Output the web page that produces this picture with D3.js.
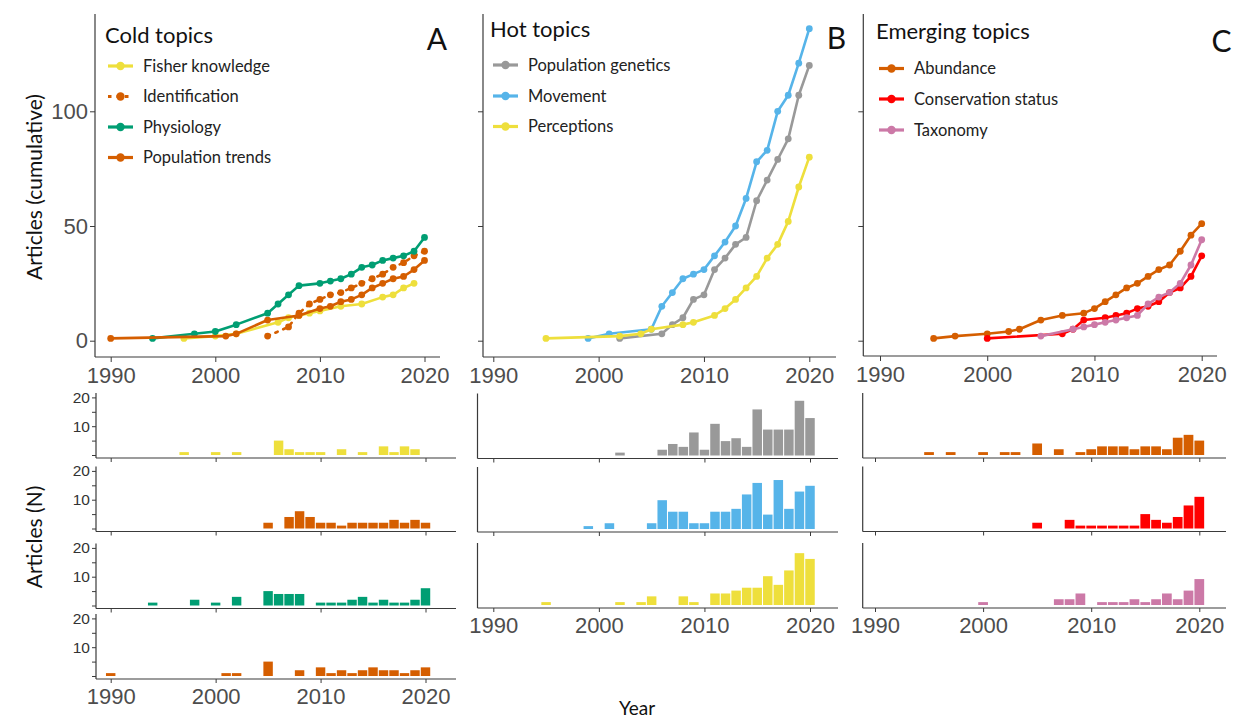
<!DOCTYPE html>
<html>
<head>
<meta charset="utf-8">
<script src="https://cdn.jsdelivr.net/npm/d3@7"></script>
<style>
  body { margin: 0; background: #fff; }
  svg { display: block; }
</style>
</head>
<body>
<svg id="chart" width="1236" height="720"></svg>
<script>
// ---- Topic names per group ----
const coldTopics = ["Fisher knowledge", "Identification", "Physiology", "Population trends"];
const hotTopics = ["Population genetics", "Movement", "Perceptions"];
const emergingTopics = ["Abundance", "Conservation status", "Taxonomy"];

// ---- Year axis ticks ----
const yearTicks = [1990, 2000, 2010, 2020];
const cumulativeTicks = [0, 50, 100];
const countTicks = [0, 5, 10, 15, 20];
const countTickLabels = ["", "", "10", "", "20"];

// ---- Cold topics ----
const fisherYears = [1997, 2000, 2002, 2006, 2007, 2008, 2009, 2010, 2012, 2014, 2016, 2017, 2018, 2019];
const fisherCounts = [1, 1, 1, 5, 2, 1, 1, 1, 2, 1, 3, 1, 3, 2];
const fisherCumulative = [1, 2, 3, 8, 10, 11, 12, 13, 15, 16, 19, 20, 23, 25];

const identYears = [2005, 2007, 2008, 2009, 2010, 2011, 2012, 2013, 2014, 2015, 2016, 2017, 2018, 2019, 2020];
const identCounts = [2, 4, 6, 4, 2, 2, 1, 2, 2, 2, 2, 3, 2, 3, 2];
const identCumulative = [2, 6, 12, 16, 18, 20, 21, 23, 25, 27, 29, 32, 34, 37, 39];

const physioYears = [1994, 1998, 2000, 2002, 2005, 2006, 2007, 2008, 2010, 2011, 2012, 2013, 2014, 2015, 2016, 2017, 2018, 2019, 2020];
const physioCounts = [1, 2, 1, 3, 5, 4, 4, 4, 1, 1, 1, 2, 3, 1, 2, 1, 1, 2, 6];
const physioCumulative = [1, 3, 4, 7, 12, 16, 20, 24, 25, 26, 27, 29, 32, 33, 35, 36, 37, 39, 45];

const trendsYears = [1990, 2001, 2002, 2005, 2008, 2010, 2011, 2012, 2013, 2014, 2015, 2016, 2017, 2018, 2019, 2020];
const trendsCounts = [1, 1, 1, 5, 2, 3, 1, 2, 1, 2, 3, 2, 2, 1, 2, 3];
const trendsCumulative = [1, 2, 3, 9, 11, 14, 15, 17, 18, 20, 23, 25, 27, 28, 31, 35];

// ---- Hot topics ----
const geneticsYears = [2002, 2006, 2007, 2008, 2009, 2010, 2011, 2012, 2013, 2014, 2015, 2016, 2017, 2018, 2019, 2020];
const geneticsCounts = [1, 2, 4, 3, 8, 2, 11, 5, 6, 3, 16, 9, 9, 9, 19, 13];
const geneticsCumulative = [1, 3, 7, 10, 18, 20, 31, 36, 42, 45, 61, 70, 79, 88, 107, 120];

const movementYears = [1999, 2001, 2005, 2006, 2007, 2008, 2009, 2010, 2011, 2012, 2013, 2014, 2015, 2016, 2017, 2018, 2019, 2020];
const movementCounts = [1, 2, 2, 10, 6, 6, 2, 2, 6, 6, 7, 12, 16, 5, 17, 7, 13, 15];
const movementCumulative = [1, 3, 5, 15, 21, 27, 29, 31, 37, 43, 50, 62, 78, 83, 100, 107, 121, 136];

const perceptionsYears = [1995, 2002, 2004, 2005, 2008, 2009, 2011, 2012, 2013, 2014, 2015, 2016, 2017, 2018, 2019, 2020];
const perceptionsCounts = [1, 1, 1, 3, 3, 1, 4, 4, 5, 6, 6, 10, 7, 12, 18, 16];
const perceptionsCumulative = [1, 2, 3, 5, 7, 8, 11, 14, 18, 23, 28, 36, 42, 52, 67, 80];

// ---- Emerging topics ----
const abundanceYears = [1995, 1997, 2000, 2002, 2003, 2005, 2007, 2009, 2010, 2011, 2012, 2013, 2014, 2015, 2016, 2017, 2018, 2019, 2020];
const abundanceCounts = [1, 1, 1, 1, 1, 4, 2, 1, 2, 3, 3, 3, 2, 3, 3, 2, 6, 7, 5];
const abundanceCumulative = [1, 2, 3, 4, 5, 9, 11, 12, 14, 17, 20, 23, 25, 28, 31, 33, 39, 46, 51];

const conservationBarYears = [2005, 2008, 2009, 2010, 2011, 2012, 2013, 2014, 2015, 2016, 2017, 2018, 2019, 2020];
const conservationCounts = [2, 3, 1, 1, 1, 1, 1, 1, 5, 3, 2, 4, 8, 11];
const conservationLineYears = [2000, 2007, 2008, 2009, 2011, 2012, 2013, 2014, 2015, 2016, 2017, 2018, 2019, 2020];
const conservationCumulative = [1, 3, 5, 9, 10, 11, 12, 14, 15, 17, 21, 23, 28, 37];

const taxonomyBarYears = [2000, 2007, 2008, 2009, 2011, 2012, 2013, 2014, 2015, 2016, 2017, 2018, 2019, 2020];
const taxonomyCounts = [1, 2, 2, 4, 1, 1, 1, 2, 1, 2, 4, 2, 5, 9];
const taxonomyLineYears = [2005, 2008, 2009, 2010, 2011, 2012, 2013, 2014, 2015, 2016, 2017, 2018, 2019, 2020];
const taxonomyCumulative = [2, 5, 6, 7, 8, 9, 10, 11, 16, 19, 21, 25, 33, 44];

// ---- Palette ----
const YELLOW = "#EEDF3C", ORANGE = "#D55E00", GREEN = "#009E73", GREY = "#999999",
      BLUE = "#56B4E9", RED = "#FF0000", PINK = "#CC79A7";

const zip = (xs, ys) => xs.map((x, i) => ({ year: x, value: ys[i] }));

// ---- Panel definitions (layout in px) ----
const panels = [
  {
    letter: "A", title: "Cold topics",
    top: { axisX: 95, axisEnd: 440, axisY: 357, x1990: 110.7, x2020: 424.5 },
    bars: { axisX: 96, axisEnd: 456, x1990: 110.7, x2020: 425.5, bases: [455, 528.5, 605.5, 676], labels: true },
    legend: { x: 106, titleY: 35, rows: [66, 96.5, 127, 157.5] },
    letterPos: [437, 39],
    series: [
      { name: coldTopics[0], color: YELLOW, line: zip(fisherYears, fisherCumulative), bar: zip(fisherYears, fisherCounts) },
      { name: coldTopics[1], color: ORANGE, dashed: true, line: zip(identYears, identCumulative), bar: zip(identYears, identCounts) },
      { name: coldTopics[2], color: GREEN, line: zip(physioYears, physioCumulative), bar: zip(physioYears, physioCounts) },
      { name: coldTopics[3], color: ORANGE, line: zip(trendsYears, trendsCumulative), bar: zip(trendsYears, trendsCounts) }
    ]
  },
  {
    letter: "B", title: "Hot topics",
    top: { axisX: 483, axisEnd: 836, axisY: 357, x1990: 493.3, x2020: 809.3 },
    bars: { axisX: 477.5, axisEnd: 838, x1990: 493.3, x2020: 810, bases: [455.5, 529, 605], labels: false },
    legend: { x: 491, titleY: 29, rows: [65, 96, 126.5] },
    letterPos: [836.5, 38],
    series: [
      { name: hotTopics[0], color: GREY, line: zip(geneticsYears, geneticsCumulative), bar: zip(geneticsYears, geneticsCounts) },
      { name: hotTopics[1], color: BLUE, line: zip(movementYears, movementCumulative), bar: zip(movementYears, movementCounts) },
      { name: hotTopics[2], color: YELLOW, line: zip(perceptionsYears, perceptionsCumulative), bar: zip(perceptionsYears, perceptionsCounts) }
    ]
  },
  {
    letter: "C", title: "Emerging topics",
    top: { axisX: 863.3, axisEnd: 1217, axisY: 356, x1990: 880, x2020: 1201.7 },
    bars: { axisX: 862.7, axisEnd: 1226, x1990: 875, x2020: 1199.3, bases: [455, 528.5, 605], labels: false },
    legend: { x: 877, titleY: 31, rows: [68.5, 99, 130] },
    letterPos: [1221.5, 41],
    series: [
      { name: emergingTopics[0], color: ORANGE, line: zip(abundanceYears, abundanceCumulative), bar: zip(abundanceYears, abundanceCounts) },
      { name: emergingTopics[1], color: RED, line: zip(conservationLineYears, conservationCumulative), bar: zip(conservationBarYears, conservationCounts) },
      { name: emergingTopics[2], color: PINK, line: zip(taxonomyLineYears, taxonomyCumulative), bar: zip(taxonomyBarYears, taxonomyCounts) }
    ]
  }
];

const svg = d3.select("#chart");
const AXIS = "#3a3a3a";
const TICKTXT = "#4d4d4d";
const SANS = "Lato, 'Open Sans', sans-serif";
const ARIAL = "'Liberation Sans', Arial, sans-serif";

// Shared vertical scale for the cumulative panels
const yCum = d3.scaleLinear().domain([0, 100]).range([340.7, 111.3]);
const COUNT_PX = 2.88; // px per article in the yearly count rows

panels.forEach((p, pi) => {
  const T = p.top;
  const x = d3.scaleLinear().domain([1990, 2020]).range([T.x1990, T.x2020]);
  const g = svg.append("g");

  // axes of the cumulative panel
  const yAxis = d3.axisLeft(yCum).tickValues(cumulativeTicks).tickSize(5)
    .tickFormat(pi === 0 ? d3.format("d") : () => "");
  const ya = g.append("g").attr("transform", `translate(${T.axisX},0)`).call(yAxis);
  ya.select(".domain").remove();
  ya.append("line").attr("x1", 0).attr("x2", 0).attr("y1", 14).attr("y2", T.axisY).attr("stroke", AXIS).attr("stroke-width", 1.2);
  ya.selectAll(".tick line").attr("stroke", AXIS).attr("stroke-width", 1);
  ya.selectAll(".tick text").attr("fill", TICKTXT).style("font-family", ARIAL).style("font-size", "22px").attr("x", -7);

  const xAxis = d3.axisBottom(x).tickValues(yearTicks).tickSize(5).tickFormat(d3.format("d"));
  const xa = g.append("g").attr("transform", `translate(0,${T.axisY})`).call(xAxis);
  xa.select(".domain").remove();
  xa.append("line").attr("x1", T.axisX).attr("x2", T.axisEnd).attr("y1", 0).attr("y2", 0).attr("stroke", AXIS).attr("stroke-width", 1.2);
  xa.selectAll(".tick line").attr("stroke", AXIS);
  xa.selectAll(".tick text").attr("fill", TICKTXT).style("font-family", ARIAL).style("font-size", "22px").attr("y", 10);

  // cumulative lines with points
  const lineGen = d3.line().x(d => x(d.year)).y(d => yCum(d.value));
  p.series.forEach(s => {
    g.append("path").datum(s.line).attr("d", lineGen)
      .attr("fill", "none").attr("stroke", s.color).attr("stroke-width", 2.6)
      .attr("stroke-linejoin", "round").attr("stroke-linecap", "round")
      .attr("stroke-dasharray", s.dashed ? "2.5,6" : null);
    g.selectAll(null).data(s.line).enter().append("circle")
      .attr("cx", d => x(d.year)).attr("cy", d => yCum(d.value)).attr("r", 3.4)
      .attr("fill", s.color);
  });

  // legend
  const L = p.legend;
  g.append("text").attr("x", L.x - 1).attr("y", L.titleY).attr("dy", "0.35em")
    .style("font-family", SANS).style("font-size", "22px").attr("fill", "#111").text(p.title);
  p.series.forEach((s, i) => {
    const ly = L.rows[i];
    g.append("line").attr("x1", L.x + 2).attr("x2", L.x + 27).attr("y1", ly).attr("y2", ly)
      .attr("stroke", s.color).attr("stroke-width", 3.2)
      .attr("stroke-dasharray", s.dashed ? "3.5,5" : null);
    g.append("circle").attr("cx", L.x + 14.5).attr("cy", ly).attr("r", 4.2).attr("fill", s.color);
    g.append("text").attr("x", L.x + 37).attr("y", ly).attr("dy", "0.35em")
      .style("font-family", SANS).style("font-size", "16.5px").attr("fill", "#222").text(s.name);
  });

  // panel letter
  g.append("text").attr("x", p.letterPos[0]).attr("y", p.letterPos[1]).attr("dy", "0.35em")
    .attr("text-anchor", "middle").style("font-family", SANS).style("font-size", "30px")
    .attr("fill", "#111").text(p.letter);

  // yearly count rows
  const B = p.bars;
  const xb = d3.scaleLinear().domain([1990, 2020]).range([B.x1990, B.x2020]);
  const yearW = (B.x2020 - B.x1990) / 30;
  p.series.forEach((s, i) => {
    const base = B.bases[i];
    const yb = d3.scaleLinear().domain([0, 20]).range([base, base - 20 * COUNT_PX]);
    const rg = svg.append("g");
    rg.selectAll("rect").data(s.bar).enter().append("rect")
      .attr("x", d => xb(d.year) - yearW * 0.45)
      .attr("width", yearW * 0.9)
      .attr("y", d => yb(d.value))
      .attr("height", d => yb(0) - yb(d.value))
      .attr("fill", s.color);

    const axY = base + 3;
    // y axis line
    rg.append("line").attr("x1", B.axisX).attr("x2", B.axisX).attr("y1", base - 62).attr("y2", axY)
      .attr("stroke", AXIS).attr("stroke-width", 1.2);
    if (B.labels) {
      const ay = rg.append("g").attr("transform", `translate(${B.axisX},0)`)
        .call(d3.axisLeft(yb).tickValues(countTicks).tickSize(4).tickFormat((d, k) => countTickLabels[k]));
      ay.select(".domain").remove();
      ay.selectAll(".tick line").attr("stroke", AXIS);
      ay.selectAll(".tick text").attr("fill", "#333").style("font-family", ARIAL).style("font-size", "15.5px").attr("x", -6);
    }
    // x axis line with ticks
    const last = i === p.series.length - 1;
    const ax = rg.append("g").attr("transform", `translate(0,${axY})`)
      .call(d3.axisBottom(xb).tickValues(yearTicks).tickSize(4).tickFormat(last ? d3.format("d") : () => ""));
    ax.select(".domain").remove();
    ax.append("line").attr("x1", B.axisX).attr("x2", B.axisEnd).attr("stroke", AXIS).attr("stroke-width", 1.2);
    ax.selectAll(".tick line").attr("stroke", AXIS);
    ax.selectAll(".tick text").attr("fill", TICKTXT).style("font-family", ARIAL).style("font-size", "22px").attr("y", 9);
  });
});

// axis titles
svg.append("text").attr("transform", "translate(35,187) rotate(-90)").attr("text-anchor", "middle")
  .attr("dy", "0.35em").style("font-family", SANS).style("font-size", "21px").attr("fill", "#111")
  .text("Articles (cumulative)");
svg.append("text").attr("transform", "translate(35,537) rotate(-90)").attr("text-anchor", "middle")
  .attr("dy", "0.35em").style("font-family", SANS).style("font-size", "21px").attr("fill", "#111")
  .text("Articles (N)");
svg.append("text").attr("x", 637).attr("y", 708).attr("text-anchor", "middle")
  .attr("dy", "0.35em").style("font-family", SANS).style("font-size", "19px").attr("fill", "#111")
  .text("Year");
</script>
</body>
</html>
